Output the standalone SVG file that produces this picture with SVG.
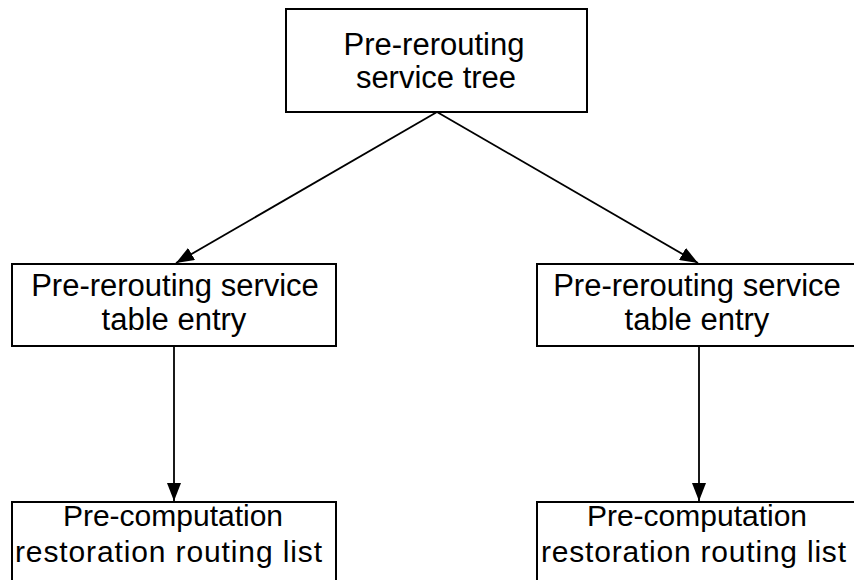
<svg xmlns="http://www.w3.org/2000/svg" width="854" height="580" viewBox="0 0 854 580">
<style>
.box{fill:#fff;stroke:#000;stroke-width:2}
.t{font-family:"Liberation Sans",Arial,sans-serif;font-size:31px;fill:#000;text-anchor:middle}
.b{font-size:30px}
.s{text-anchor:start}
.c{stroke:#000;stroke-width:1.8;fill:none}
</style>
<defs>
<marker id="ah" markerWidth="18" markerHeight="14" refX="18" refY="7" orient="auto" markerUnits="userSpaceOnUse">
<path d="M0,0 L18,7 L0,14 Z" fill="#000"/>
</marker>
</defs>
<rect width="854" height="580" fill="#fff"/>
<g id="connectors">
<line class="c" x1="437" y1="112" x2="176" y2="263" marker-end="url(#ah)"/>
<line class="c" x1="437" y1="112" x2="698" y2="263" marker-end="url(#ah)"/>
<line class="c" x1="174" y1="346" x2="174" y2="501" marker-end="url(#ah)"/>
<line class="c" x1="699" y1="346" x2="699" y2="501" marker-end="url(#ah)"/>
</g>
<g id="n_tree">
<rect class="box" x="286" y="9" width="301" height="103"/>
<text class="t" x="434" y="55">Pre-rerouting</text>
<text class="t" x="436" y="88">service tree</text>
</g>
<g id="n_entry_left">
<rect class="box" x="12" y="264" width="324" height="82"/>
<text class="t" x="175" y="296">Pre-rerouting service</text>
<text class="t" x="174" y="330">table entry</text>
</g>
<g id="n_entry_right">
<rect class="box" x="537" y="264" width="324" height="82"/>
<text class="t" x="697" y="296">Pre-rerouting service</text>
<text class="t" x="697" y="330">table entry</text>
</g>
<g id="n_list_left">
<rect class="box" x="12" y="502" width="324" height="90"/>
<text class="t b" x="173" y="526">Pre-computation</text>
<text class="t b s" x="15" y="562" textLength="307" lengthAdjust="spacing">restoration routing list</text>
</g>
<g id="n_list_right">
<rect class="box" x="537" y="502" width="324" height="90"/>
<text class="t b" x="697" y="526">Pre-computation</text>
<text class="t b s" x="541" y="562" textLength="305" lengthAdjust="spacing">restoration routing list</text>
</g>
</svg>
